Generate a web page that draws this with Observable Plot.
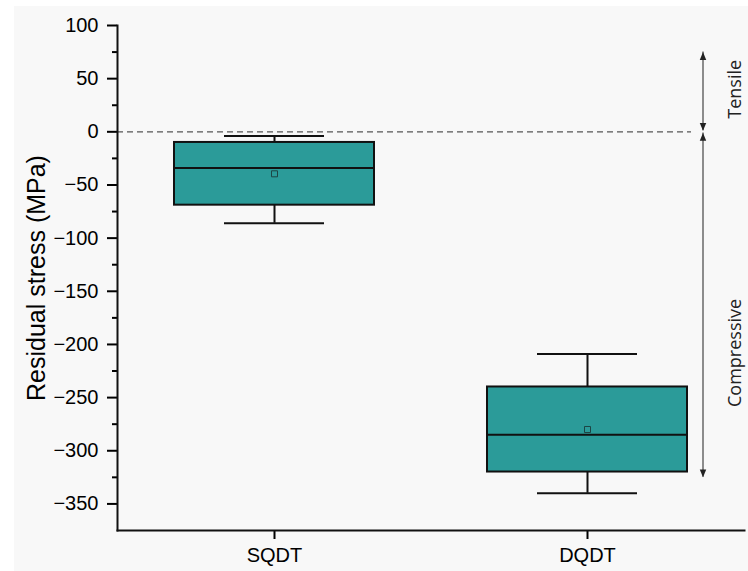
<!DOCTYPE html>
<html>
<head>
<meta charset="utf-8">
<script src="https://cdn.jsdelivr.net/npm/d3@7"></script>
<script src="https://cdn.jsdelivr.net/npm/@observablehq/plot@0.6"></script>
<style>
  html, body { margin: 0; padding: 0; background: #ffffff; }
  #chart svg { display: block; margin: 6px 0 0 14px; }
</style>
</head>
<body>
<div id="chart"></div>
<script>
// ---- data ----
const groups  = ["SQDT", "DQDT"];
const whiskLo = [-86, -340];
const q1      = [-69, -320];
const medians = [-34, -285];
const q3      = [-10, -240];
const whiskHi = [-4, -209];
const means   = [-39.5, -280];

const yTicks     = [-350, -300, -250, -200, -150, -100, -50, 0, 50, 100];
const yMinor     = [-325, -275, -225, -175, -125, -75, -25, 25, 75];
const regionNames = ["Tensile", "Compressive"];
const regionTop    = [75, -1];
const regionBottom = [1, -325];
const regionLabelY = [40, -208];

const boxes = groups.map((g, i) => ({
  group: g, min: whiskLo[i], q1: q1[i], median: medians[i], q3: q3[i], max: whiskHi[i], mean: means[i]
}));
const regions = regionNames.map((n, i) => ({
  name: n, top: regionTop[i], bottom: regionBottom[i], labelY: regionLabelY[i]
}));

const teal = "#2b9b99";
const ink = "#111111";

const upHead = {
  draw(ctx, size) {
    const r = Math.sqrt(size / Math.PI);
    ctx.moveTo(0, 0);
    ctx.lineTo(-0.95 * r, 2.3 * r);
    ctx.lineTo(0.95 * r, 2.3 * r);
    ctx.closePath();
  }
};
const downHead = {
  draw(ctx, size) {
    const r = Math.sqrt(size / Math.PI);
    ctx.moveTo(0, 0);
    ctx.lineTo(-0.95 * r, -2.3 * r);
    ctx.lineTo(0.95 * r, -2.3 * r);
    ctx.closePath();
  }
};
const annotX = () => groups[1];

const chart = Plot.plot({
  width: 734,
  height: 565,
  marginLeft: 103,
  marginRight: 4,
  marginTop: 19,
  marginBottom: 41,
  style: {
    background: "#f8f8f8",
    fontFamily: "'Liberation Sans', Arial, sans-serif",
    fontSize: "20px",
    color: "#000",
    overflow: "visible"
  },
  x: { type: "band", domain: groups, paddingInner: 0.362, paddingOuter: 0.181, label: null },
  y: { domain: [-375, 100], label: null },
  marks: [
    // zero reference line
    Plot.ruleY([0], { stroke: "#555", strokeWidth: 1.2, strokeDasharray: "6,4", insetRight: 53 }),
    // whiskers
    Plot.ruleX(boxes, { x: "group", y1: "q3", y2: "max", stroke: ink, strokeWidth: 2 }),
    Plot.ruleX(boxes, { x: "group", y1: "min", y2: "q1", stroke: ink, strokeWidth: 2 }),
    Plot.tickY(boxes, { x: "group", y: "max", stroke: ink, strokeWidth: 2, insetLeft: 50, insetRight: 50 }),
    Plot.tickY(boxes, { x: "group", y: "min", stroke: ink, strokeWidth: 2, insetLeft: 50, insetRight: 50 }),
    // boxes
    Plot.barY(boxes, { x: "group", y1: "q1", y2: "q3", fill: teal, stroke: ink, strokeWidth: 2 }),
    Plot.tickY(boxes, { x: "group", y: "median", stroke: ink, strokeWidth: 2 }),
    Plot.dot(boxes, { x: "group", y: "mean", symbol: "square", r: 3.4, fill: teal, stroke: "#1d4544", strokeWidth: 1 }),
    // region arrows
    Plot.ruleX(regions, { x: annotX, y1: "top", y2: "bottom", dx: 115.5, stroke: "#333", strokeWidth: 1.1 }),
    Plot.dot(regions, { x: annotX, y: "top", dx: 115.5, symbol: upHead, r: 3.4, fill: "#222", stroke: null }),
    Plot.dot(regions, { x: annotX, y: "bottom", dx: 115.5, symbol: downHead, r: 3.4, fill: "#222", stroke: null }),
    Plot.text(regions, {
      text: "name", y: "labelY", frameAnchor: "right", dx: -9, rotate: -90, textAnchor: "middle",
      fontSize: 18, fontFamily: "'Open Sans', 'Noto Sans', sans-serif", fill: "#222"
    }),
    // axes
    Plot.axisY({ ticks: yTicks, tickSize: 10, tickPadding: 9, strokeWidth: 2, fontSize: 20 }),
    Plot.axisY({ ticks: yMinor, tickSize: 5, tickFormat: () => "", strokeWidth: 2 }),
    Plot.axisX({ tickSize: 9, tickPadding: 8, strokeWidth: 2, fontSize: 20 }),
    Plot.frame({ anchor: "left", strokeWidth: 2, stroke: ink }),
    Plot.frame({ anchor: "bottom", strokeWidth: 2, stroke: ink }),
    // y axis title
    Plot.text(["Residual stress (MPa)"], {
      frameAnchor: "left", dx: -81, rotate: -90, textAnchor: "middle", fontSize: 25,
      fontFamily: "'Liberation Sans', Arial, sans-serif", fill: "#000"
    })
  ]
});

document.getElementById("chart").appendChild(chart);
</script>
</body>
</html>
